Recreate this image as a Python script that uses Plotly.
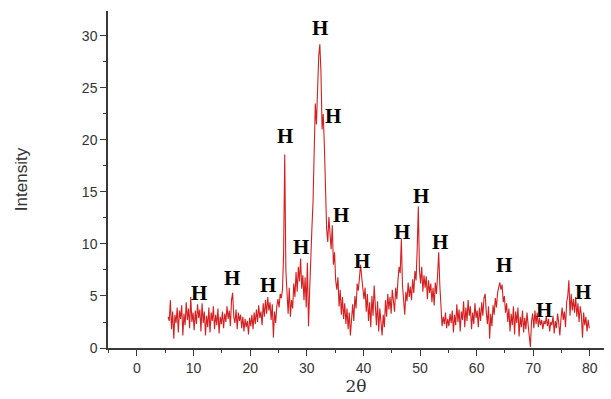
import numpy as np
import plotly.graph_objects as go

# XRD intensities, 2θ grid starting at 5.5° with 0.2° step
intensity = [
    # 5.5 - 10.3
    3.0, 2.6, 4.6, 1.8, 3.5, 0.9, 3.2, 2.4, 3.9, 1.5, 3.6, 2.8, 4.1, 1.2, 3.3, 2.2, 4.4, 2.7, 3.8, 1.9, 4.9, 2.5, 3.4, 1.7, 3.6,
    # 10.5 - 15.3
    2.3, 4.2, 2.9, 3.7, 1.6, 4.3, 2.4, 3.5, 1.2, 3.1, 2.0, 3.9, 1.5, 3.4, 2.6, 4.0, 1.8, 3.2, 2.2, 3.8, 1.4, 3.0, 2.3, 3.5, 1.9,
    # 15.5 - 20.3
    3.3, 2.5, 4.0, 2.8, 3.6, 2.1, 4.6, 5.3, 3.0, 2.4, 3.7, 1.8, 3.4, 2.6, 3.2, 1.9, 3.0, 1.6, 2.8, 2.0, 2.6, 1.3, 2.9, 2.1, 3.2,
    # 20.5 - 25.3
    1.8, 3.4, 2.3, 3.7, 2.5, 4.1, 2.9, 3.5, 2.2, 4.3, 3.0, 4.6, 3.3, 4.9, 3.6, 4.4, 2.7, 4.2, 1.0, 3.5, 2.4, 4.0, 4.7, 3.9, 5.2,
    # 25.5 - 30.3
    4.8, 5.6, 9.0, 18.6, 7.5, 5.2, 3.3, 5.8, 3.0, 4.6, 3.8, 6.2, 4.9, 7.3, 5.4, 7.8, 6.4, 8.6, 5.7, 7.0, 4.6, 6.8, 3.9, 8.2, 2.1,
    # 30.5 - 35.3
    5.5, 9.2, 11.5, 14.0, 19.0, 23.5, 21.5, 25.5, 28.0, 29.2, 26.5, 21.0, 22.5, 19.5, 15.0, 11.5, 10.2, 12.6, 11.0, 9.5, 11.8, 8.0, 9.2, 6.5, 5.6,
    # 35.5 - 40.3
    6.8, 4.0, 5.6, 3.2, 4.9, 2.8, 4.3, 2.3, 3.8, 1.8, 3.4, 1.2, 3.0, 4.2, 2.6, 5.0, 3.8, 6.2, 5.5, 7.2, 8.0, 6.8, 6.0, 4.7, 5.8,
    # 40.5 - 45.3
    3.5, 5.2, 2.6, 4.4, 2.0, 5.0, 3.1, 6.0, 3.6, 2.2, 4.5, 1.6, 3.8, 2.4, 1.2, 3.2, 2.0, 4.6, 3.0, 5.2, 3.7, 4.9, 3.3, 5.6, 4.4,
    # 45.5 - 50.3
    3.5, 5.8, 4.7, 6.5, 7.8, 7.2, 10.5, 6.0, 4.2, 3.2, 5.4, 4.5, 6.3, 4.9, 5.9, 4.6, 6.6, 5.3, 7.4, 6.5, 9.5, 13.6, 7.5, 6.2, 7.8,
    # 50.5 - 55.3
    5.4, 7.0, 5.8, 6.9, 4.7, 6.5, 5.3, 6.2, 4.4, 5.8, 4.1, 6.3, 5.2, 7.0, 9.2, 6.0, 3.4, 2.1, 3.0, 2.3, 3.4, 1.9, 2.8, 2.1, 3.3,
    # 55.5 - 60.3
    2.4, 3.6, 1.5, 3.2, 2.2, 4.2, 2.5, 3.7, 1.6, 3.5, 2.7, 4.5, 2.0, 3.9, 2.6, 4.6, 3.1, 4.0, 1.8, 3.4, 2.3, 4.3, 2.9, 3.6, 2.0,
    # 60.5 - 65.3
    3.9, 2.6, 4.4, 3.1, 4.8, 5.2, 3.5, 2.3, 4.0, 0.9, 3.3, 2.1, 4.1, 3.2, 4.8, 3.9, 5.3, 5.8, 6.3, 5.6, 6.1, 4.4, 5.0, 3.4, 4.3,
    # 65.5 - 70.3
    2.5, 3.8, 1.6, 3.3, 2.2, 4.0, 1.3, 3.5, 2.4, 3.9, 1.1, 3.0, 2.0, 3.6, 1.5, 2.9, 1.8, 3.4, 2.2, 1.0, 0.1, 2.6, 3.3, 1.9, 3.6,
    # 70.5 - 75.3
    2.3, 3.4, 2.0, 2.9, 2.2, 2.7, 1.8, 2.6, 2.3, 3.0, 2.1, 2.8, 1.6, 2.5, 2.2, 3.1, 1.4, 2.6, 1.9, 3.3, 2.4, 1.2, 2.8, 3.9, 2.7,
    # 75.5 - 79.9
    3.5, 2.0, 4.4, 5.0, 6.5, 3.1, 5.2, 3.6, 4.7, 3.4, 4.9, 3.0, 4.3, 2.5, 4.0, 3.2, 1.0, 3.4, 2.2, 3.0, 1.6, 2.7, 1.9,
]
two_theta = np.round(5.5 + 0.2 * np.arange(len(intensity)), 1)

# Peak labels ("H") positions in data units
label_x = [10.95, 16.8, 23.1, 26.1, 29.0, 32.3, 34.6, 36.0, 39.75, 46.8, 50.2, 53.5, 64.8, 71.9, 78.8]
label_y = [5.3, 6.7, 6.06, 20.4, 9.7, 30.8, 22.3, 12.8, 8.4, 11.2, 14.6, 10.2, 8.0, 3.65, 5.4]
label_text = "H"

x_ticks = [0, 10, 20, 30, 40, 50, 60, 70, 80]
y_ticks = [0, 5, 10, 15, 20, 25, 30]

fig = go.Figure()
fig.add_trace(go.Scatter(
    x=two_theta, y=intensity, mode="lines",
    line=dict(color="#d81e1e", width=1.1), showlegend=False,
))

for lx, ly in zip(label_x, label_y):
    fig.add_annotation(
        x=lx, y=ly, text="<b>" + label_text + "</b>", showarrow=False,
        font=dict(family="Liberation Serif", size=21, color="#000000"),
        xanchor="center", yanchor="middle",
    )

axis_common = dict(
    showline=True, linecolor="#3a3a3a", linewidth=1.5,
    ticks="outside", tickcolor="#3a3a3a", tickwidth=1.2, ticklen=6,
    showgrid=False, zeroline=False,
    tickfont=dict(family="Liberation Sans", size=14, color="#333333"),
    minor=dict(ticks="outside", ticklen=3, tickcolor="#3a3a3a", tickwidth=1.2, showgrid=False),
)

fig.update_xaxes(
    **axis_common, range=[-5.12, 82.5], tickvals=x_ticks,
    title=dict(text="2θ", font=dict(family="DejaVu Serif", size=17, color="#333333"), standoff=3),
)
fig.update_xaxes(minor_dtick=5, minor_tick0=0)
fig.update_yaxes(
    **axis_common, range=[0, 32.4], tickvals=y_ticks,
    title=dict(text="Intensity", font=dict(family="Liberation Sans", size=17, color="#333333"), standoff=50),
)
fig.update_yaxes(minor_dtick=2.5, minor_tick0=0)

fig.update_layout(
    width=611, height=399,
    margin=dict(l=108, r=7, t=11, b=51),
    plot_bgcolor="white", paper_bgcolor="white",
)

fig.write_html("out.html")
